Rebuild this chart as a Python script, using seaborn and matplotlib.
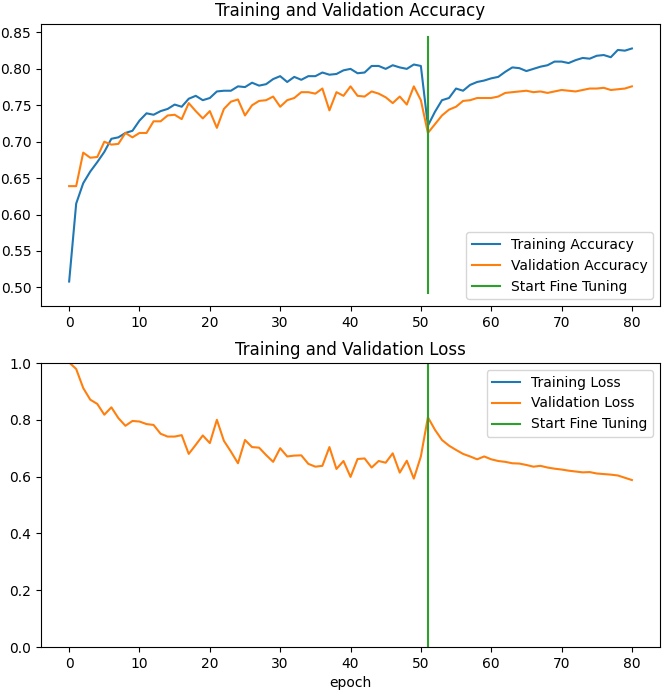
#!/usr/bin/env python3

import matplotlib
matplotlib.use("Agg")
import matplotlib.pyplot as plt
import numpy as np
import seaborn as sns


INITIAL_EPOCHS = 52  # fine tuning starts at epoch 51

acc = [
    0.508, 0.615, 0.643, 0.659, 0.672, 0.686, 0.704, 0.706, 0.712, 0.715,
    0.729, 0.739, 0.737, 0.742, 0.745, 0.751, 0.748, 0.759, 0.763, 0.757,
    0.760, 0.769, 0.770, 0.770, 0.776, 0.775, 0.781, 0.777, 0.779, 0.786,
    0.790, 0.782, 0.789, 0.785, 0.790, 0.790, 0.795, 0.792, 0.793, 0.798,
    0.800, 0.794, 0.795, 0.804, 0.804, 0.800, 0.805, 0.802, 0.800, 0.806,
    0.804, 0.722, 0.741, 0.757, 0.760, 0.773, 0.770, 0.778, 0.782, 0.784,
    0.787, 0.789, 0.796, 0.802, 0.801, 0.797, 0.800, 0.803, 0.805, 0.810,
    0.810, 0.808, 0.812, 0.815, 0.814, 0.818, 0.819, 0.816, 0.826, 0.825,
    0.828,
]

val_acc = [
    0.639, 0.639, 0.685, 0.678, 0.679, 0.700, 0.696, 0.697, 0.712, 0.706,
    0.712, 0.712, 0.728, 0.728, 0.736, 0.737, 0.731, 0.753, 0.742, 0.732,
    0.742, 0.719, 0.745, 0.755, 0.758, 0.736, 0.750, 0.756, 0.757, 0.762,
    0.748, 0.757, 0.760, 0.768, 0.768, 0.766, 0.773, 0.743, 0.768, 0.763,
    0.776, 0.763, 0.762, 0.769, 0.766, 0.761, 0.753, 0.762, 0.751, 0.776,
    0.757, 0.712, 0.724, 0.736, 0.744, 0.748, 0.756, 0.757, 0.760, 0.760,
    0.760, 0.762, 0.767, 0.768, 0.769, 0.770, 0.768, 0.769, 0.767, 0.769,
    0.771, 0.770, 0.769, 0.771, 0.773, 0.773, 0.774, 0.771, 0.772, 0.773,
    0.776,
]

# training loss sits above the visible range (y limited to 0..1)
loss = [
    2.35, 1.98, 1.86, 1.79, 1.74, 1.70, 1.67, 1.64, 1.62, 1.60,
    1.58, 1.56, 1.55, 1.53, 1.52, 1.51, 1.50, 1.49, 1.48, 1.47,
    1.46, 1.45, 1.45, 1.44, 1.43, 1.42, 1.42, 1.41, 1.40, 1.40,
    1.39, 1.39, 1.38, 1.38, 1.37, 1.37, 1.36, 1.36, 1.35, 1.35,
    1.34, 1.34, 1.34, 1.33, 1.33, 1.32, 1.32, 1.32, 1.31, 1.31,
    1.31, 1.45, 1.40, 1.37, 1.35, 1.33, 1.32, 1.31, 1.30, 1.29,
    1.28, 1.27, 1.27, 1.26, 1.25, 1.25, 1.24, 1.23, 1.23, 1.22,
    1.22, 1.21, 1.21, 1.20, 1.20, 1.19, 1.19, 1.18, 1.18, 1.17,
    1.17,
]

val_loss = [
    1.002, 0.979, 0.912, 0.871, 0.856, 0.818, 0.844, 0.806, 0.779, 0.796,
    0.794, 0.785, 0.782, 0.751, 0.741, 0.741, 0.746, 0.680, 0.712, 0.745,
    0.718, 0.800, 0.726, 0.688, 0.647, 0.729, 0.704, 0.702, 0.676, 0.652,
    0.700, 0.671, 0.674, 0.675, 0.645, 0.635, 0.638, 0.704, 0.627, 0.655,
    0.599, 0.662, 0.664, 0.632, 0.655, 0.649, 0.682, 0.614, 0.656, 0.593,
    0.671, 0.809, 0.765, 0.729, 0.709, 0.694, 0.680, 0.671, 0.661, 0.671,
    0.661, 0.655, 0.652, 0.647, 0.646, 0.641, 0.635, 0.638, 0.632, 0.628,
    0.625, 0.621, 0.618, 0.615, 0.616, 0.611, 0.609, 0.607, 0.604, 0.596,
    0.588,
]

epochs = np.arange(len(acc))
BLUE, ORANGE, GREEN = "#1f77b4", "#ff7f0e", "#2ca02c"

fig = plt.figure(figsize=(6.69, 6.92), dpi=100)

# accuracy
ax1 = fig.add_axes([0.0613, 0.5578, 0.9253, 0.4075])
sns.lineplot(x=epochs, y=acc, ax=ax1, color=BLUE, label="Training Accuracy",
             estimator=None)
sns.lineplot(x=epochs, y=val_acc, ax=ax1, color=ORANGE,
             label="Validation Accuracy", estimator=None)
ax1.plot([INITIAL_EPOCHS - 1, INITIAL_EPOCHS - 1], ax1.get_ylim(),
         color=GREEN, label="Start Fine Tuning")
ax1.set_xlabel("")
ax1.legend(loc="lower right")
ax1.set_title("Training and Validation Accuracy")

# loss
ax2 = fig.add_axes([0.0613, 0.0650, 0.9253, 0.4104])
sns.lineplot(x=epochs, y=loss, ax=ax2, color=BLUE, label="Training Loss",
             estimator=None)
sns.lineplot(x=epochs, y=val_loss, ax=ax2, color=ORANGE,
             label="Validation Loss", estimator=None)
ax2.set_ylim([0, 1.0])
ax2.plot([INITIAL_EPOCHS - 1, INITIAL_EPOCHS - 1], ax2.get_ylim(),
         color=GREEN, label="Start Fine Tuning")
ax2.legend(loc="upper right")
ax2.set_title("Training and Validation Loss")
ax2.set_xlabel("epoch")

fig.savefig("out.png", dpi=100)
